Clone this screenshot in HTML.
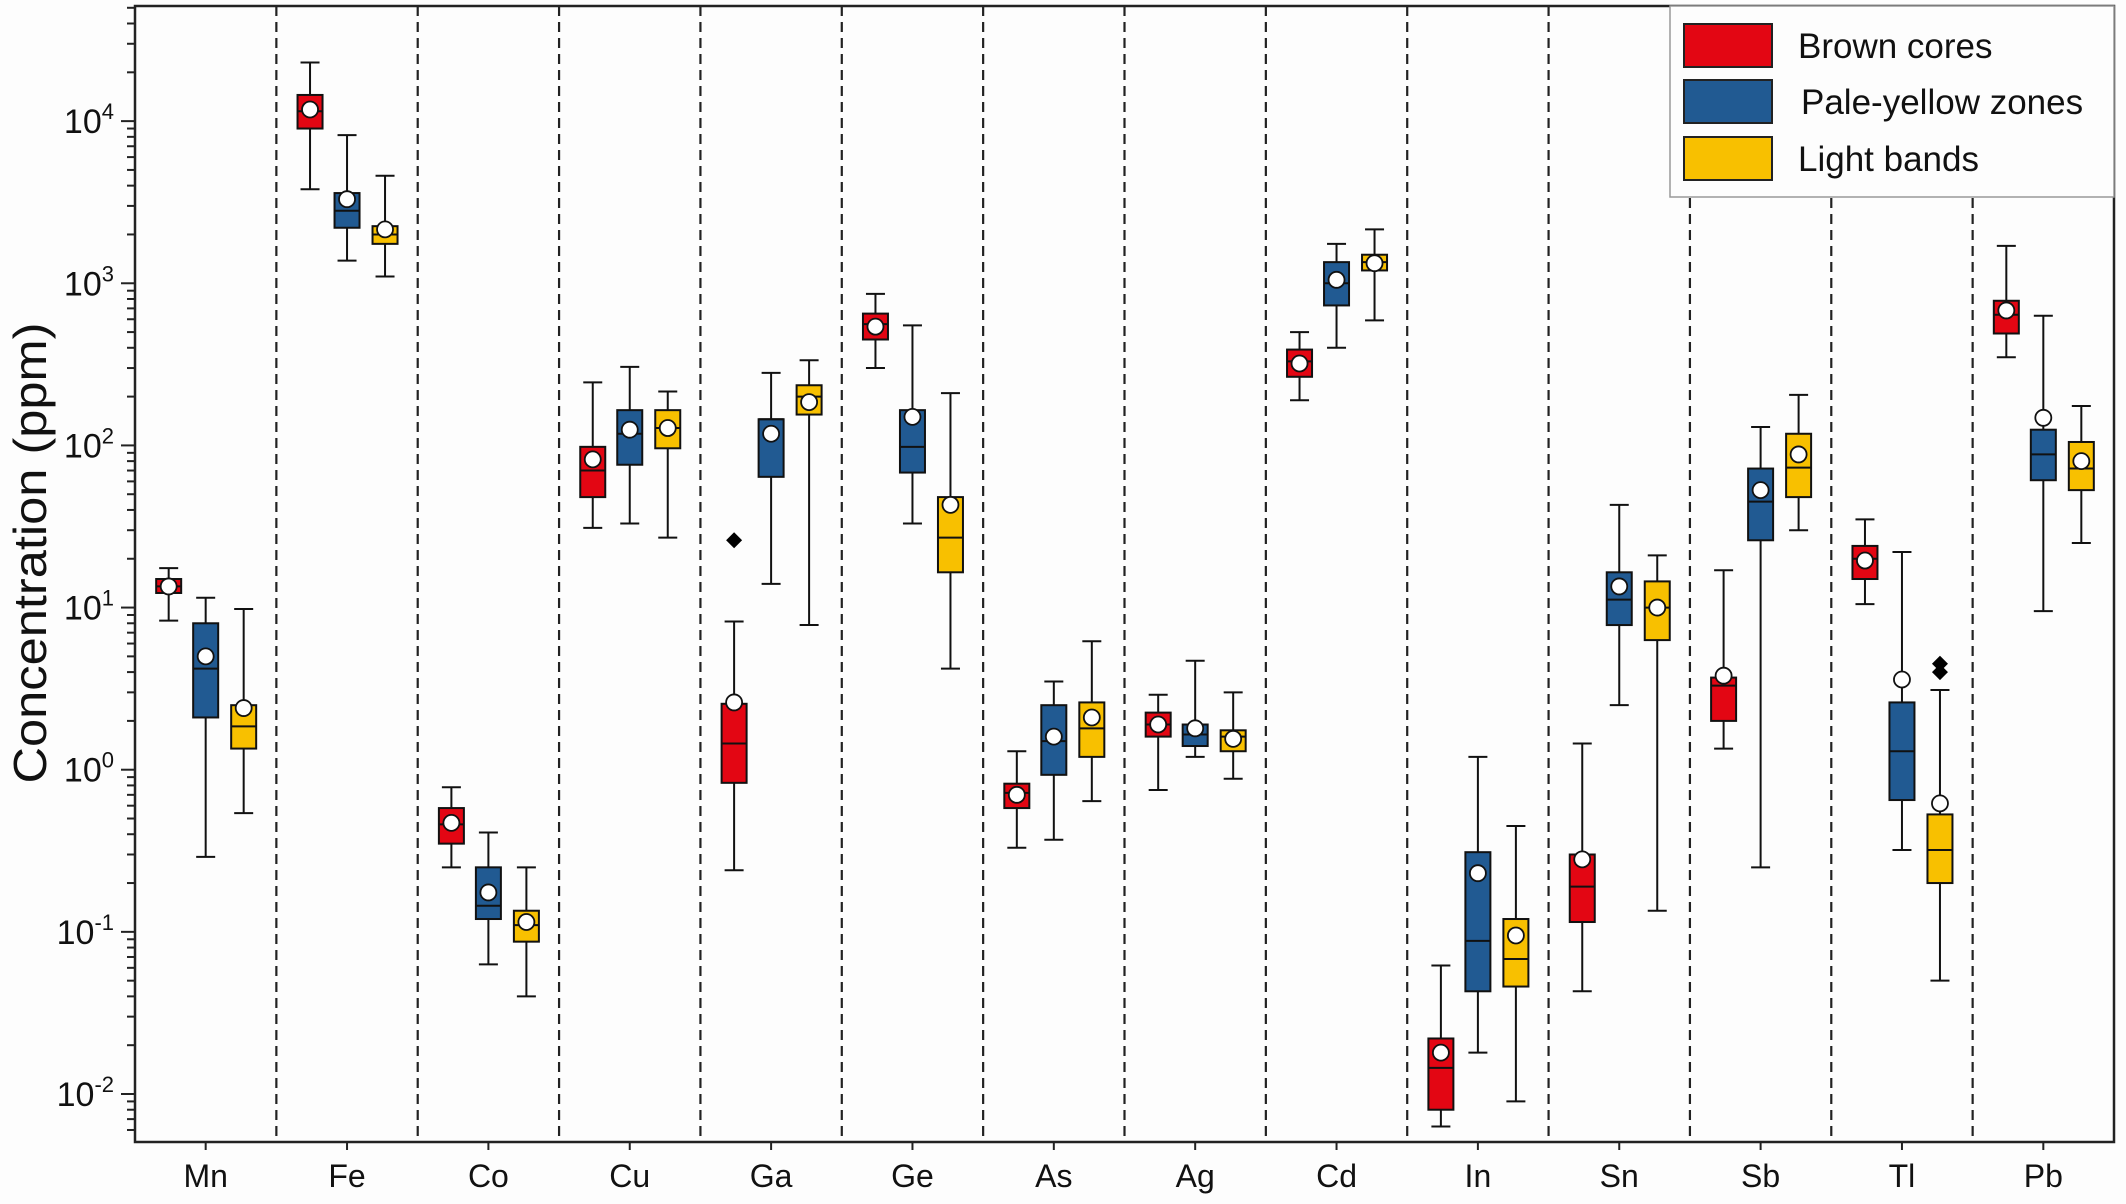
<!DOCTYPE html>
<html><head><meta charset="utf-8"><style>
html,body{margin:0;padding:0;background:#fdfdfd;}
svg{display:block;font-family:"Liberation Sans",Arial,sans-serif;}
</style></head><body>
<svg id="chart" width="2126" height="1204" viewBox="0 0 2126 1204"></svg>
<script>
const elements = ["Mn","Fe","Co","Cu","Ga","Ge","As","Ag","Cd","In","Sn","Sb","Tl","Pb"];
const seriesNames = ["Brown cores","Pale-yellow zones","Light bands"];
const seriesColors = ["#e30613","#215a92","#f8c000"];
// each: [min, q1, median, q3, max, mean]
const brownCores = [
 [8.3,12.3,13.5,15,17.5,13.5],[3800,9000,11500,14500,23000,11800],[0.25,0.35,0.46,0.58,0.78,0.47],
 [31,48,70,98,245,82],[0.24,0.83,1.45,2.55,8.2,2.6],[300,450,560,650,860,540],
 [0.33,0.58,0.72,0.82,1.3,0.7],[0.75,1.6,1.9,2.25,2.9,1.9],[190,265,330,390,500,320],
 [0.0063,0.008,0.0145,0.022,0.062,0.018],[0.043,0.115,0.19,0.3,1.45,0.28],[1.35,2,3.3,3.7,17,3.8],
 [10.5,15,20,24,35,19.5],[350,490,640,780,1700,680]];
const paleYellowZones = [
 [0.29,2.1,4.2,8,11.5,5],[1380,2200,2800,3600,8200,3300],[0.063,0.12,0.145,0.25,0.41,0.175],
 [33,76,118,165,305,125],[14,64,145,145,280,118],[33,68,98,165,550,150],
 [0.37,0.93,1.5,2.5,3.5,1.6],[1.2,1.4,1.65,1.9,4.7,1.8],[400,730,1000,1350,1750,1050],
 [0.018,0.043,0.088,0.31,1.2,0.23],[2.5,7.8,11.2,16.5,43,13.5],[0.25,26,45,72,130,53],
 [0.32,0.65,1.3,2.6,22,3.6],[9.5,61,88,125,630,148]];
const lightBands = [
 [0.54,1.35,1.85,2.5,9.8,2.4],[1100,1750,2000,2250,4600,2150],[0.04,0.087,0.11,0.135,0.25,0.115],
 [27,96,128,165,215,128],[7.8,155,200,235,335,185],[4.2,16.5,27,48,210,43],
 [0.64,1.2,1.8,2.6,6.2,2.1],[0.88,1.3,1.6,1.75,3,1.55],[590,1200,1350,1500,2150,1330],
 [0.009,0.046,0.068,0.12,0.45,0.095],[0.135,6.3,10,14.5,21,10],[30,48,73,118,205,88],
 [0.05,0.2,0.32,0.53,3.1,0.62],[25,53,72,105,175,80]];
const outlierSeries = [0,2,2];
const outlierGroup = [4,12,12];
const outlierValues = [26,4.0,4.5];
const yTickExps = [-2,-1,0,1,2,3,4];

const NS="http://www.w3.org/2000/svg";
const svg=document.getElementById('chart');
const L=135,R=2114,T=6,B=1142;
const logMin=-2.296, logMax=4.71;
function y(v){return B-(Math.log10(v)-logMin)/(logMax-logMin)*(B-T);}
const gw=(R-L)/elements.length;
function xg(i){return L+gw*(i+0.5);}
const offs=[-37,0,38];
function mk(tag,attrs,parent){const e=document.createElementNS(NS,tag);for(const k in attrs)e.setAttribute(k,attrs[k]);(parent||svg).appendChild(e);return e;}

for(let i=1;i<elements.length;i++){
  const l=mk('line',{x1:L+gw*i,x2:L+gw*i,y1:T,y2:B,stroke:'#222','stroke-width':2.2,'stroke-dasharray':'10,6'});
  
  
}
const fr=mk('rect',{x:L,y:T,width:R-L,height:B-T,fill:'none',stroke:'#222','stroke-width':2.5});



const yAxis=mk('g',{});


for(let e=-3;e<=4;e++){
  for(let m=1;m<=9;m++){
    const v=m*Math.pow(10,e);const lv=Math.log10(v);
    if(lv<logMin||lv>logMax)continue;
    const len=m===1?14:8;
    mk('line',{x1:L-len,x2:L,y1:y(v),y2:y(v),stroke:'#222','stroke-width':2},yAxis);
  }
}
yTickExps.forEach(e=>{
  const t=mk('text',{x:114,y:y(Math.pow(10,e))+12,'text-anchor':'end','font-size':34,fill:'#111'},yAxis);
  
  
  t.innerHTML='10<tspan dy="-14" font-size="22">'+e+'</tspan>';
});
const yt=mk('text',{transform:'translate(46,553) rotate(-90)','text-anchor':'middle','font-size':46,fill:'#111',textLength:461,lengthAdjust:'spacingAndGlyphs'});


yt.textContent='Concentration (ppm)';

elements.forEach((n,i)=>{
  mk('line',{x1:xg(i),x2:xg(i),y1:B,y2:B+8,stroke:'#222','stroke-width':2});
  const t=mk('text',{x:xg(i),y:1187,'text-anchor':'middle','font-size':32,fill:'#111'});
  
  
  t.textContent=n;
});

const all=[brownCores,paleYellowZones,lightBands];
all.forEach((ser,s)=>{
  ser.forEach((d,i)=>{
    const cx=xg(i)+offs[s];const bw=25,cw=19;
    const g=mk('g',{});
    
    
    mk('line',{x1:cx,x2:cx,y1:y(d[4]),y2:y(d[0]),stroke:'#111','stroke-width':2},g);
    mk('line',{x1:cx-cw/2,x2:cx+cw/2,y1:y(d[4]),y2:y(d[4]),stroke:'#111','stroke-width':2},g);
    mk('line',{x1:cx-cw/2,x2:cx+cw/2,y1:y(d[0]),y2:y(d[0]),stroke:'#111','stroke-width':2},g);
    mk('rect',{x:cx-bw/2,y:y(d[3]),width:bw,height:Math.max(1,y(d[1])-y(d[3])),fill:seriesColors[s],stroke:'#111','stroke-width':2},g);
    mk('line',{x1:cx-bw/2,x2:cx+bw/2,y1:y(d[2]),y2:y(d[2]),stroke:'#111','stroke-width':2},g);
    mk('circle',{cx:cx,cy:y(d[5]),r:8,fill:'#fff',stroke:'#111','stroke-width':1.8},g);
  });
});
outlierValues.forEach((v,k)=>{
  const cx=xg(outlierGroup[k])+offs[outlierSeries[k]];const cy=y(v);
  const p=mk('polygon',{points:`${cx},${cy-8} ${cx+8},${cy} ${cx},${cy+8} ${cx-8},${cy}`,fill:'#000'});
  
  
});

const lg=mk('g',{});


mk('rect',{x:1670,y:6,width:444,height:191,fill:'#fdfdfd',stroke:'#999','stroke-width':1.5},lg);
const ly=[24,80,137];
seriesNames.forEach((n,s)=>{
  const e=mk('g',{},lg);
  
  
  mk('rect',{x:1684,y:ly[s],width:88,height:43,fill:seriesColors[s],stroke:'#222','stroke-width':2},e);
  const t=mk('text',{x:s===1?1801:1798,y:ly[s]+34,'font-size':35,fill:'#111'},e);
  t.textContent=n;
});
</script>
</body></html>
